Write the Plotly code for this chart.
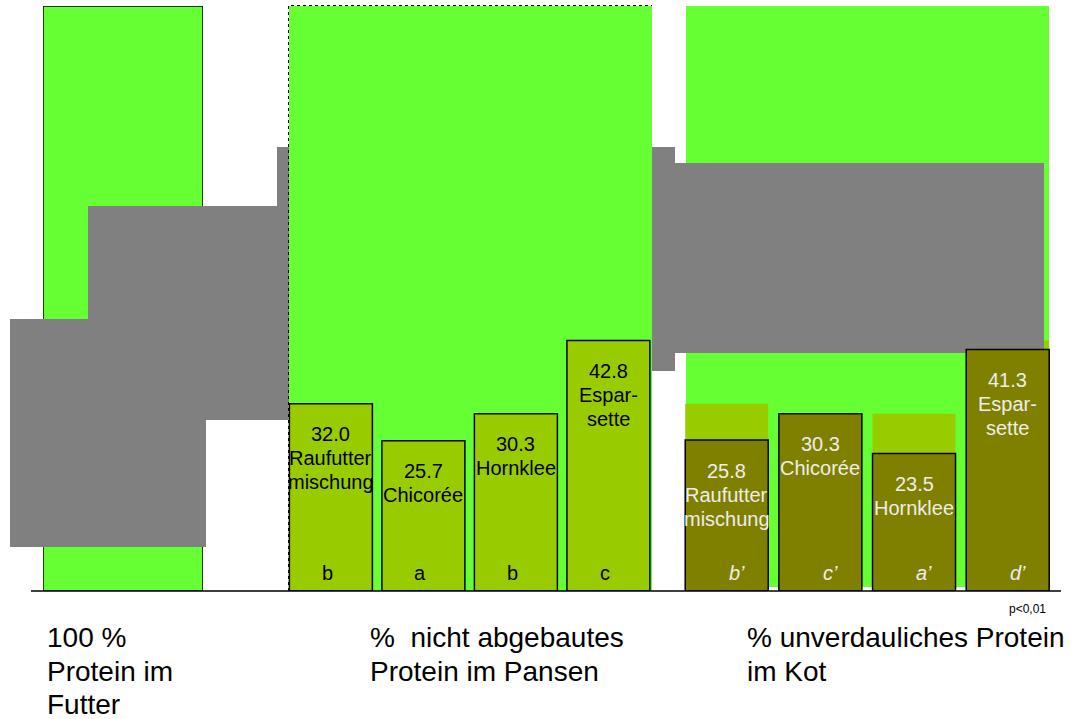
import plotly.graph_objects as go

# ---------------- data ----------------
feed_total = [100]
forages = ["Raufuttermischung", "Chicorée", "Hornklee", "Esparsette"]
forage_labels = ["Raufutter\nmischung", "Chicorée", "Hornklee", "Espar-\nsette"]
rumen_undegraded = [32.0, 25.7, 30.3, 42.8]
rumen_letters = ["b", "a", "b", "c"]
fecal_indigestible = [25.8, 30.3, 23.5, 41.3]
fecal_letters = ["b’", "c’", "a’", "d’"]
group_titles = [
    ["100 %", "Protein im", "Futter"],
    ["%\u00a0 nicht abgebautes", "Protein im Pansen"],
    ["% unverdauliches Protein", "im Kot"],
]
significance = "p<0,01"

# ---------------- layout constants ----------------
W, H = 1080, 719
BASE, TOP = 591, 6                      # pixel rows of y=0 and y=100
PPU = (BASE - TOP) / 100.0              # pixels per percent
FONT = "Liberation Sans, Arial, Helvetica, sans-serif"
BRIGHT, LIGHT, OLIVE, GRAY = "#66FF33", "#99CC00", "#808000", "#808080"
LIGHT_TEXT = "#EDEDED"

L_C0, L_PITCH, L_W = 330.9, 92.5, 0.897    # left group
R_C0, R_PITCH, R_W = 726.7, 93.67, 0.886   # right group
R_DOM = (640, 1080)


def px(x):
    return x / W


def py(y):
    return (BASE - y) / (BASE - TOP)


n = len(forages)
idx = list(range(n))

fig = go.Figure()

# 100 % protein in feed
fig.add_trace(go.Bar(x=[0], y=feed_total, width=1, xaxis="x", yaxis="y",
                     marker=dict(color=BRIGHT, line=dict(color="black", width=1.5)),
                     hoverinfo="skip"))
# undegraded protein in rumen
fig.add_trace(go.Bar(x=idx, y=rumen_undegraded, width=L_W, xaxis="x2", yaxis="y",
                     marker=dict(color=LIGHT, line=dict(color="black", width=1.5)),
                     customdata=forages, hoverinfo="skip"))
# rumen values repeated behind the fecal bars
fig.add_trace(go.Bar(x=idx, y=rumen_undegraded, width=R_W, xaxis="x3", yaxis="y",
                     marker=dict(color=LIGHT, line=dict(width=0)),
                     hoverinfo="skip"))
# grey block covering the upper right area (between the two bar layers)
gx = [(p - R_C0) / R_PITCH for p in (675, 1044, 1044, 675, 675)]
gy = [(BASE - p) / PPU for p in (163, 163, 353, 353, 163)]
fig.add_trace(go.Scatter(x=gx, y=gy, xaxis="x3", yaxis="y", mode="lines",
                         fill="toself", fillcolor=GRAY, line=dict(width=0),
                         hoverinfo="skip"))
# indigestible protein in faeces
fig.add_trace(go.Bar(x=idx, y=fecal_indigestible, width=R_W, xaxis="x4", yaxis="y",
                     marker=dict(color=OLIVE, line=dict(color="black", width=1.5)),
                     customdata=forages, hoverinfo="skip"))

shapes = [
    dict(type="rect", xref="paper", yref="paper", x0=px(277), x1=px(675),
         y0=py(371), y1=py(147), fillcolor=GRAY, line=dict(width=0), layer="below"),
    dict(type="rect", xref="paper", yref="paper", x0=px(289), x1=px(652),
         y0=py(BASE), y1=py(TOP), fillcolor=BRIGHT, line=dict(width=0), layer="below"),
    dict(type="rect", xref="paper", yref="paper", x0=px(686), x1=px(1049),
         y0=py(587), y1=py(TOP), fillcolor=BRIGHT, line=dict(width=0), layer="below"),
    dict(type="rect", xref="paper", yref="paper", x0=px(10), x1=px(206),
         y0=py(547), y1=py(319), fillcolor=GRAY, line=dict(width=0), layer="above"),
    dict(type="rect", xref="paper", yref="paper", x0=px(88), x1=px(289),
         y0=py(420), y1=py(206), fillcolor=GRAY, line=dict(width=0), layer="above"),
    dict(type="path", xref="paper", yref="paper",
         path=f"M {px(288.5)},{py(BASE)} L {px(288.5)},{py(5.5)} L {px(652)},{py(5.5)}",
         line=dict(color="black", width=1, dash="dot"), layer="above"),
    dict(type="line", xref="paper", yref="paper", x0=px(31), x1=px(1061),
         y0=py(BASE), y1=py(BASE), line=dict(color="black", width=1.5), layer="above"),
]

annotations = []
LINE_GAP = 24
FIRST = 30.5


def bar_labels(xref, values, color):
    for i, (v, name) in enumerate(zip(values, forage_labels)):
        lines = [f"{v:.1f}"] + name.split("\n")
        for k, t in enumerate(lines):
            annotations.append(dict(
                xref=xref, yref="y", x=i, y=v, text=t, showarrow=False,
                xanchor="center", yanchor="middle",
                yshift=-(FIRST + LINE_GAP * k),
                font=dict(family=FONT, size=20, color=color)))


bar_labels("x2", rumen_undegraded, "black")
bar_labels("x4", fecal_indigestible, LIGHT_TEXT)

for i, t in enumerate(rumen_letters):
    annotations.append(dict(xref="x2", yref="y", x=i, y=0, text=t, showarrow=False,
                            yanchor="middle", yshift=18, xshift=-3,
                            font=dict(family=FONT, size=20, color="black")))
for i, t in enumerate(fecal_letters):
    annotations.append(dict(xref="x4", yref="y", x=i, y=0, text=f"<i>{t}</i>",
                            showarrow=False, yanchor="middle", yshift=18, xshift=10,
                            font=dict(family=FONT, size=20, color=LIGHT_TEXT)))

title_x = [45.5, 369, 745.5]
title_rows = [637.5, 671, 704]
for tx, lines in zip(title_x, group_titles):
    for k, t in enumerate(lines):
        annotations.append(dict(xref="paper", yref="paper", x=px(tx), y=py(title_rows[k]),
                                text=t, showarrow=False, xanchor="left", yanchor="middle",
                                borderpad=0,
                                font=dict(family=FONT, size=28, color="black")))

annotations.append(dict(xref="paper", yref="paper", x=px(1027), y=py(609),
                        text=significance, showarrow=False, xanchor="center",
                        yanchor="middle", font=dict(family=FONT, size=12, color="black")))

ax_common = dict(visible=False, showgrid=False, zeroline=False, fixedrange=True)
fig.update_layout(
    width=W, height=H,
    margin=dict(l=0, r=0, t=TOP, b=H - BASE, pad=0),
    paper_bgcolor="white", plot_bgcolor="rgba(0,0,0,0)",
    showlegend=False,
    xaxis=dict(domain=[px(43), px(203)], range=[-0.5, 0.5], anchor="y", **ax_common),
    xaxis2=dict(domain=[px(L_C0 - L_PITCH / 2), px(L_C0 + 3.5 * L_PITCH)],
                range=[-0.5, 3.5], anchor="y", **ax_common),
    xaxis3=dict(domain=[px(R_DOM[0]), px(R_DOM[1])],
                range=[(R_DOM[0] - R_C0) / R_PITCH, (R_DOM[1] - R_C0) / R_PITCH],
                anchor="y", **ax_common),
    xaxis4=dict(overlaying="x3",
                range=[(R_DOM[0] - R_C0) / R_PITCH, (R_DOM[1] - R_C0) / R_PITCH],
                anchor="y", **ax_common),
    yaxis=dict(domain=[0, 1], range=[0, 100], anchor="x", **ax_common),
    shapes=shapes,
    annotations=annotations,
)

fig.write_html("out.html")
